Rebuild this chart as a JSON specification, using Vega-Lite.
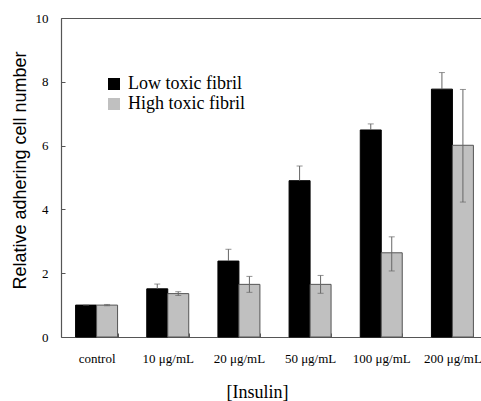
{
  "$schema": "https://vega.github.io/schema/vega-lite/v6.json",
  "width": 420,
  "height": 319,
  "autosize": {"type": "none"},
  "padding": {"left": 61, "top": 18, "right": 0, "bottom": 64},
  "background": "white",
  "config": {
    "view": {"stroke": null},
    "font": "Liberation Serif, Times New Roman, serif"
  },
  "data": {
    "values": [
      {"cat": "control", "series": "Low toxic fibril", "value": 1.0, "lo": 1.0, "hi": 1.0},
      {"cat": "control", "series": "High toxic fibril", "value": 1.0, "lo": 0.98, "hi": 1.02},
      {"cat": "10 μg/mL", "series": "Low toxic fibril", "value": 1.51, "lo": 1.51, "hi": 1.66},
      {"cat": "10 μg/mL", "series": "High toxic fibril", "value": 1.36, "lo": 1.3, "hi": 1.42},
      {"cat": "20 μg/mL", "series": "Low toxic fibril", "value": 2.38, "lo": 2.38, "hi": 2.75},
      {"cat": "20 μg/mL", "series": "High toxic fibril", "value": 1.65, "lo": 1.4, "hi": 1.9},
      {"cat": "50 μg/mL", "series": "Low toxic fibril", "value": 4.9, "lo": 4.9, "hi": 5.36},
      {"cat": "50 μg/mL", "series": "High toxic fibril", "value": 1.65, "lo": 1.37, "hi": 1.93},
      {"cat": "100 μg/mL", "series": "Low toxic fibril", "value": 6.49, "lo": 6.49, "hi": 6.68},
      {"cat": "100 μg/mL", "series": "High toxic fibril", "value": 2.64, "lo": 2.07, "hi": 3.14},
      {"cat": "200 μg/mL", "series": "Low toxic fibril", "value": 7.77, "lo": 7.77, "hi": 8.29},
      {"cat": "200 μg/mL", "series": "High toxic fibril", "value": 6.01, "lo": 4.23, "hi": 7.76}
    ]
  },
  "encoding": {
    "x": {
      "field": "cat",
      "type": "nominal",
      "sort": ["control", "10 μg/mL", "20 μg/mL", "50 μg/mL", "100 μg/mL", "200 μg/mL"],
      "scale": {"range": [0, 427], "paddingInner": 0.41, "paddingOuter": 0.205},
      "axis": {
        "title": "[Insulin]",
        "titleFont": "Liberation Serif, Times New Roman, serif",
        "titleFontSize": 18,
        "titleFontWeight": "normal",
        "titleColor": "black",
        "titleX": 196,
        "titleY": 60,
        "titleAnchor": "middle",
        "titleAlign": "center",
        "titleBaseline": "alphabetic",
        "labelAngle": 0,
        "labelFont": "Liberation Serif, Times New Roman, serif",
        "labelFontSize": 13,
        "labelColor": "black",
        "labelPadding": 19,
        "tickBand": "extent",
        "tickSize": -4,
        "tickColor": "#555",
        "domainColor": "#555",
        "domainWidth": 1.2,
        "grid": false
      }
    },
    "xOffset": {
      "field": "series",
      "type": "nominal",
      "sort": ["Low toxic fibril", "High toxic fibril"],
      "scale": {"paddingInner": 0, "paddingOuter": 0}
    }
  },
  "layer": [
    {
      "mark": {"type": "bar", "strokeWidth": 1},
      "encoding": {
        "y": {
          "field": "value",
          "type": "quantitative",
          "scale": {"domain": [0, 10], "nice": false},
          "axis": {
            "title": "Relative adhering cell number",
            "titleFont": "Liberation Sans",
            "titleFontSize": 18,
            "titleFontWeight": "normal",
            "titleColor": "black",
            "titleX": -41,
            "titleY": 152,
            "titleAngle": -90,
            "titleAlign": "center",
            "titleBaseline": "middle",
            "values": [0, 2, 4, 6, 8, 10],
            "labelFont": "Liberation Serif, Times New Roman, serif",
            "labelFontSize": 13,
            "labelColor": "black",
            "labelPadding": 17,
            "tickSize": -4,
            "tickColor": "#555",
            "domainColor": "#555",
            "domainWidth": 1.2,
            "grid": true,
            "gridColor": "#555",
            "gridWidth": 1.2,
            "gridOpacity": {"condition": {"test": "datum.value == 10", "value": 1}, "value": 0}
          }
        },
        "fill": {
          "field": "series",
          "type": "nominal",
          "sort": ["Low toxic fibril", "High toxic fibril"],
          "scale": {"domain": ["Low toxic fibril", "High toxic fibril"], "range": ["#000000", "#c0c0c0"]},
          "legend": {
            "title": null,
            "orient": "none",
            "legendX": 44,
            "legendY": 57,
            "padding": 0,
            "symbolType": "square",
            "symbolSize": 144,
            "symbolStrokeWidth": 0,
            "labelFont": "Liberation Serif, Times New Roman, serif",
            "labelFontSize": 18,
            "labelColor": "black",
            "labelOffset": 5,
            "rowPadding": 2,
            "labelLimit": 300,
            "encode": {
              "symbols": {
                "enter": {
                  "fill": {"signal": "datum.value === 'Low toxic fibril' ? '#000000' : '#8c8c8c'"}
                },
                "update": {
                  "fill": {"signal": "datum.value === 'Low toxic fibril' ? '#000000' : '#8c8c8c'"}
                }
              }
            }
          }
        },
        "stroke": {
          "field": "series",
          "type": "nominal",
          "scale": {"domain": ["Low toxic fibril", "High toxic fibril"], "range": ["#000000", "#555555"]},
          "legend": null
        }
      }
    },
    {
      "mark": {"type": "rule", "color": "#666", "strokeWidth": 1},
      "encoding": {
        "y": {"field": "lo", "type": "quantitative"},
        "y2": {"field": "hi"}
      }
    },
    {
      "mark": {"type": "tick", "color": "#666", "thickness": 1, "size": 6, "orient": "horizontal"},
      "encoding": {
        "y": {"field": "hi", "type": "quantitative"}
      }
    },
    {
      "transform": [{"filter": "datum.series === 'High toxic fibril'"}],
      "mark": {"type": "tick", "color": "#666", "thickness": 1, "size": 6, "orient": "horizontal"},
      "encoding": {
        "y": {"field": "lo", "type": "quantitative"}
      }
    }
  ]
}
